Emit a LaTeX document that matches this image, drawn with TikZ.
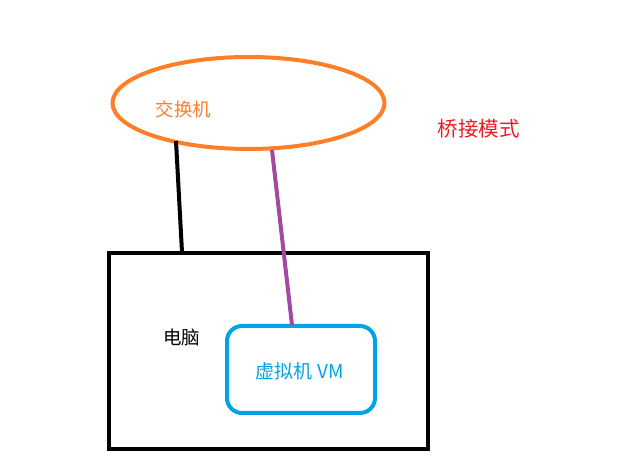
\documentclass[tikz,border=0pt]{standalone}
\usepackage{fontspec}
\newfontfamily\cjk{Noto Sans CJK SC}
\usetikzlibrary{shapes.geometric}
\definecolor{pOrange}{HTML}{FF7F27}
\definecolor{pPurple}{HTML}{A349A4}
\definecolor{pBlue}{HTML}{00A2E8}
\definecolor{pRed}{HTML}{ED1C24}
\begin{document}
\begin{tikzpicture}[x=1pt,y=-1pt,
  lbl/.style={inner sep=0pt},
  wire/.style={line width=4pt}]
\useasboundingbox (0,0) rectangle (625,473);
\node[ellipse, draw=pOrange, line width=4pt, minimum width=272pt, minimum height=92pt, inner sep=0pt] (sw) at (248.5,103) {};
\node[lbl, text=pOrange, font=\cjk\fontsize{18.5}{20}\selectfont] (swt) at (183.5,109) {交换机};
\node[lbl, text=pRed, font=\cjk\fontsize{20.5}{22}\selectfont] (mode) at (478.5,129) {桥接模式};
\node[draw=black, line width=4pt, minimum width=318.5pt, minimum height=196pt, inner sep=0pt] (pc) at (268.25,351.5) {};
\node[lbl, text=black, font=\cjk\fontsize{18.5}{20}\selectfont] (pct) at (181.5,338) {电脑};
\node[draw=pBlue, line width=4pt, rounded corners=15pt, minimum width=148pt, minimum height=87pt, inner sep=0pt] (vm) at (301,369.5) {};
\node[lbl, text=pBlue, font=\cjk\fontsize{19}{20}\selectfont] (vmt) at (299.5,371) {虚拟机\hspace{5pt}VM};
\coordinate (a1) at (176,141);
\coordinate (a2) at (182,252);
\coordinate (b1) at (272,150);
\coordinate (b2) at (292,325);
\draw[wire, black] (a1) -- (a2);
\draw[wire, pPurple] (b1) -- (b2);
\end{tikzpicture}
\end{document}
